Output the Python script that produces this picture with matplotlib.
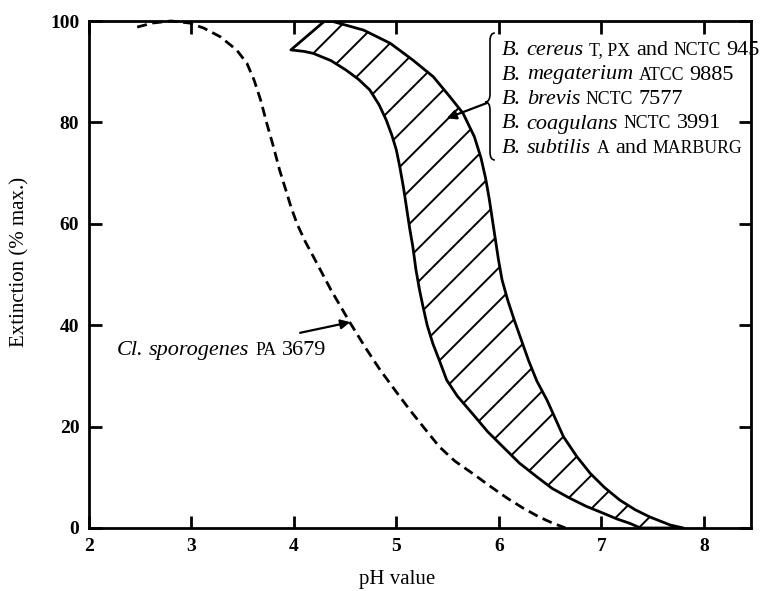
import numpy as np
import matplotlib
matplotlib.use("Agg")
import matplotlib.pyplot as plt
from matplotlib.patches import Polygon, PathPatch
from matplotlib.path import Path

# ---------------- data ----------------
cl_x = [2.47, 2.62, 2.80, 2.98, 3.12, 3.28, 3.44, 3.54, 3.61, 3.675, 3.735, 3.80, 3.86,
        3.92, 3.97, 4.03, 4.11, 4.19, 4.36, 4.55, 4.70, 4.84, 5.00, 5.13, 5.28, 5.42,
        5.57, 5.74, 5.91, 6.08, 6.23, 6.39, 6.52, 6.65]
cl_y = [98.8, 99.6, 100, 99.6, 98.6, 96.9, 94.3, 91.7, 88.4, 84.4, 79.8, 75.2, 70.6,
        66.7, 63.4, 60.0, 56.5, 53.5, 47.0, 40.4, 35.5, 31.2, 26.8, 23.3, 19.5, 16.0,
        13.2, 10.8, 8.3, 5.9, 4.0, 2.2, 1.0, 0.0]

band_low_x = [3.97, 4.10, 4.19, 4.36, 4.51, 4.63, 4.74, 4.83, 4.90, 4.955, 5.00, 5.035,
              5.07, 5.10, 5.13, 5.16, 5.19, 5.225, 5.26, 5.30, 5.355, 5.42, 5.49, 5.595,
              5.74, 5.89, 6.04, 6.20, 6.37, 6.52, 6.69, 6.85, 7.02, 7.15, 7.28, 7.38]
band_low_y = [94.3, 94.0, 93.6, 92.2, 90.3, 88.5, 86.4, 83.5, 80.5, 77.5, 74.5, 71.0,
              67.0, 63.0, 59.0, 55.5, 51.0, 47.0, 43.6, 40.0, 36.4, 33.0, 29.2, 26.0,
              22.6, 19.0, 16.0, 12.8, 10.1, 7.8, 5.9, 4.3, 2.9, 1.8, 0.9, 0.0]

band_up_x = [4.30, 4.38, 4.68, 4.94, 5.16, 5.36, 5.52, 5.65, 5.76, 5.825, 5.87, 5.905,
             5.935, 5.965, 5.995, 6.03, 6.085, 6.15, 6.22, 6.29, 6.37, 6.47, 6.63, 6.76,
             6.89, 7.03, 7.18, 7.33, 7.47, 7.67, 7.80]
band_up_y = [100, 99.9, 98.2, 95.6, 92.3, 89.0, 85.1, 81.8, 77.2, 73.0, 69.0, 65.0,
             61.0, 57.0, 53.0, 49.0, 45.0, 41.0, 37.0, 33.0, 29.0, 25.2, 18.0, 14.1,
             10.8, 8.0, 5.5, 3.6, 2.2, 0.6, 0.0]

x_ticks = [2, 3, 4, 5, 6, 7, 8]
y_ticks = [0, 20, 40, 60, 80, 100]

legend_lines = [
    [("B.", "it", False), ("cereus", "it", True), ("T, PX", "sc", True), ("and", "rm", True),
     ("NCTC", "sc", True), ("945", "rm", True)],
    [("B.", "it", False), ("megaterium", "it", True), ("ATCC", "sc", True), ("9885", "rm", True)],
    [("B.", "it", False), ("brevis", "it", True), ("NCTC", "sc", True), ("7577", "rm", True)],
    [("B.", "it", False), ("coagulans", "it", True), ("NCTC", "sc", True), ("3991", "rm", True)],
    [("B.", "it", False), ("subtilis", "it", True), ("A", "sc", True), ("and", "rm", True),
     ("MARBURG", "sc", True)],
]
cl_label = [("Cl.", "it", False), ("sporogenes", "it", True), ("PA", "sc", True), ("3679", "rm", True)]

# ---------------- figure ----------------
W, H, DPI = 768, 591, 100
plt.rcParams['font.family'] = ['Liberation Serif', 'DejaVu Serif']
plt.rcParams['hatch.linewidth'] = 1.4
fig = plt.figure(figsize=(W / DPI, H / DPI), dpi=DPI)
ax = fig.add_axes([89 / W, (H - 528) / H, (751 - 89) / W, (528 - 21) / H])

ax.set_xlim(2, 8.46)
ax.set_ylim(0, 100)

# hatched band
poly_x = list(band_up_x) + list(band_low_x[::-1])
poly_y = list(band_up_y) + list(band_low_y[::-1])
band = Polygon(np.column_stack([poly_x, poly_y]), closed=True, facecolor='white',
               edgecolor='black', linewidth=2.0, hatch='/', joinstyle='round', zorder=2)
ax.add_patch(band)

# dashed curve
ax.plot(cl_x, cl_y, color='black', linewidth=2.0, linestyle=(0, (3.6, 2.0)),
        zorder=3, clip_on=False)

# axes styling
for s in ax.spines.values():
    s.set_linewidth(2.0)
ax.set_xticks(x_ticks)
ax.set_yticks(y_ticks)
ax.tick_params(direction='in', length=9, width=2.0, top=True, right=True,
               labelsize=14, pad=7)
for lab in ax.get_xticklabels() + ax.get_yticklabels():
    lab.set_fontweight('bold')

ax.set_xlabel("pH value", fontsize=15)
ax.xaxis.set_label_coords((397 - 89) / 662, (528 - 570) / 507)
ax.set_ylabel("Extinction (% max.)", fontsize=15)
ax.yaxis.set_label_coords((29 - 89) / 662, (528 - 262) / 507)

# ---------------- annotations ----------------
fig.canvas.draw()
renderer = fig.canvas.get_renderer()
BASE = 16


def draw_pieces(x_px, y_px, pieces, size=BASE):
    x = x_px
    space = 0.25 * size * DPI / 72
    for txt, style, gap in pieces:
        if gap:
            x += space
        kw = dict(fontsize=size, va='baseline', ha='left')
        if style == 'it':
            kw['fontstyle'] = 'italic'
        elif style == 'sc':
            kw['fontsize'] = size * 0.8
        t = fig.text(x / W, (H - y_px) / H, txt, **kw)
        bb = t.get_window_extent(renderer)
        x = bb.x1


for i, line in enumerate(legend_lines):
    draw_pieces(502, 55 + i * 24.5, line)

draw_pieces(117, 355, cl_label)

# curly brace (figure pixel coordinates)
bx, btop, bbot, bmid, bw = 490, 33, 160, 102, 8


def fy(p):
    return (H - p) / H


def fxp(p):
    return p / W


verts = [
    (fxp(bx + bw * 0.6), fy(btop)),
    (fxp(bx), fy(btop)), (fxp(bx), fy(btop + 8)),
    (fxp(bx), fy(bmid - 8)),
    (fxp(bx), fy(bmid)), (fxp(bx - bw * 0.6), fy(bmid)),
    (fxp(bx), fy(bmid)), (fxp(bx), fy(bmid + 8)),
    (fxp(bx), fy(bbot - 8)),
    (fxp(bx), fy(bbot)), (fxp(bx + bw * 0.6), fy(bbot)),
]
codes = [Path.MOVETO, Path.CURVE3, Path.CURVE3, Path.LINETO, Path.CURVE3, Path.CURVE3,
         Path.CURVE3, Path.CURVE3, Path.LINETO, Path.CURVE3, Path.CURVE3]
fig.patches.append(PathPatch(Path(verts, codes), transform=fig.transFigure,
                             facecolor='none', edgecolor='black', linewidth=1.2))

# arrows
ax.annotate("", xy=(5.49, 80.8), xytext=(5.88, 83.8),
            arrowprops=dict(arrowstyle='-|>', color='black', lw=1.6,
                            mutation_scale=14, shrinkA=0, shrinkB=0))
ax.annotate("", xy=(4.55, 40.6), xytext=(4.06, 38.5),
            arrowprops=dict(arrowstyle='-|>', color='black', lw=1.6,
                            mutation_scale=14, shrinkA=0, shrinkB=0))

fig.savefig("out.png", dpi=DPI)
